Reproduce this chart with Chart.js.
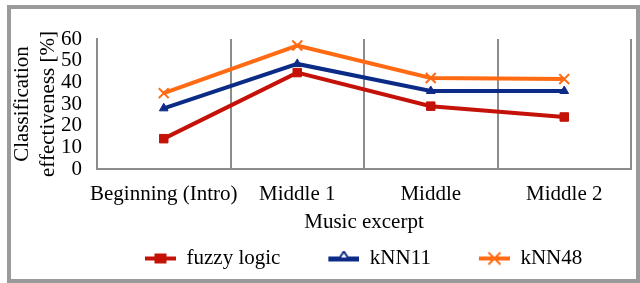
<!DOCTYPE html>
<html><head><meta charset="utf-8">
<script src="https://cdn.jsdelivr.net/npm/chart.js@4.4.1/dist/chart.umd.min.js"></script>
<style>
html,body{margin:0;padding:0;background:#fff;}
#wrap{position:relative;width:640px;height:283px;overflow:hidden;}
#frame{position:absolute;left:7px;top:5px;width:625px;height:270px;border:4px solid #9a9a9a;pointer-events:none;}
canvas{position:absolute;left:0;top:0;}
</style></head><body>
<div id="wrap"><canvas id="c" width="640" height="283"></canvas><div id="frame"></div></div>
<script>
const categories = ['Beginning (Intro)', 'Middle 1', 'Middle', 'Middle 2'];
const fuzzyLogic = [14, 44.5, 29, 24];
const kNN11 = [28, 48.5, 36, 36];
const kNN48 = [35, 57, 42, 41.5];
const seriesNames = ['fuzzy logic', 'kNN11', 'kNN48'];
const yAxisTitle = ['Classification', 'effectiveness [%]'];
const xAxisTitle = 'Music excerpt';

const RED = '#C41208', NAVY = '#0C2B86', ORANGE = '#FF6A12';
const FONT = {family: "'Liberation Serif', 'Times New Roman', serif", size: 21, lineHeight: 1.25};

const BLANK = 38, MARKW = 31, ICONW = BLANK + MARKW;
function makeIcon(color, kind) {
  const c = document.createElement('canvas');
  c.width = ICONW; c.height = 16;
  const g = c.getContext('2d');
  const cx = BLANK + MARKW / 2, cy = 8;
  g.strokeStyle = color; g.fillStyle = color; g.lineWidth = 4;
  g.beginPath(); g.moveTo(BLANK, cy); g.lineTo(ICONW, cy); g.stroke();
  if (kind === 'rect') {
    g.fillRect(cx - 6, cy - 5, 12, 10);
  } else if (kind === 'tri') {
    g.lineWidth = 2;
    g.beginPath(); g.moveTo(cx, cy - 7); g.lineTo(cx + 6, cy + 2); g.lineTo(cx - 6, cy + 2); g.closePath();
    g.fillStyle = '#fff'; g.fill(); g.stroke();
    g.lineWidth = 4; g.beginPath(); g.moveTo(BLANK, cy + 1); g.lineTo(ICONW, cy + 1); g.stroke();
  } else {
    g.lineWidth = 2;
    g.beginPath(); g.moveTo(cx - 6, cy - 6); g.lineTo(cx + 6, cy + 6);
    g.moveTo(cx + 6, cy - 6); g.lineTo(cx - 6, cy + 6); g.stroke();
  }
  return c;
}
const legendIcons = [makeIcon(RED, 'rect'), makeIcon(NAVY, 'tri'), makeIcon(ORANGE, 'x')];

function ds(label, data, color, style, radius, bw) {
  return {label, data, borderColor: color, backgroundColor: color,
    pointBackgroundColor: color, pointBorderColor: color, pointStyle: style,
    pointRadius: radius, pointBorderWidth: bw, borderWidth: 4, tension: 0, fill: false};
}

new Chart(document.getElementById('c'), {
  type: 'line',
  data: {
    labels: categories,
    datasets: [
      ds(seriesNames[0], fuzzyLogic, RED, 'rect', 6, 1),
      ds(seriesNames[1], kNN11, NAVY, 'triangle', 5, 1),
      ds(seriesNames[2], kNN48, ORANGE, 'crossRot', 7, 2)
    ]
  },
  options: {
    responsive: false, animation: false, devicePixelRatio: 1,
    layout: {padding: {left: 0, right: 8, top: 39, bottom: 4}},
    plugins: {
      tooltip: {enabled: false},
      legend: {
        position: 'bottom', align: 'start', fullSize: false,
        labels: {
          usePointStyle: true, pointStyleWidth: ICONW, padding: 10,
          color: '#000', font: FONT,
          generateLabels(chart) {
            const items = Chart.defaults.plugins.legend.labels.generateLabels(chart);
            items.forEach((it, i) => { it.pointStyle = legendIcons[i]; });
            return items;
          }
        }
      }
    },
    scales: {
      x: {
        offset: true,
        grid: {display: true, offset: true, color: '#8c8c8c', lineWidth: 2, drawTicks: false},
        border: {color: '#8c8c8c', width: 2},
        ticks: {color: '#000', font: FONT, padding: 12, maxRotation: 0, autoSkip: false},
        title: {display: true, text: xAxisTitle, color: '#000', font: FONT, padding: {top: 0, bottom: 2}},
        afterFit(s) { s.height = 69; }
      },
      y: {
        min: 0, max: 60,
        ticks: {stepSize: 10, autoSkip: false, color: '#000', font: FONT, padding: 7},
        grid: {display: false},
        border: {color: '#8c8c8c', width: 2},
        title: {display: true, text: yAxisTitle, color: '#000', font: FONT, padding: {top: 9, bottom: 0}},
        afterFit(s) { s.width = 97; }
      }
    }
  }
});
</script>
</body></html>
